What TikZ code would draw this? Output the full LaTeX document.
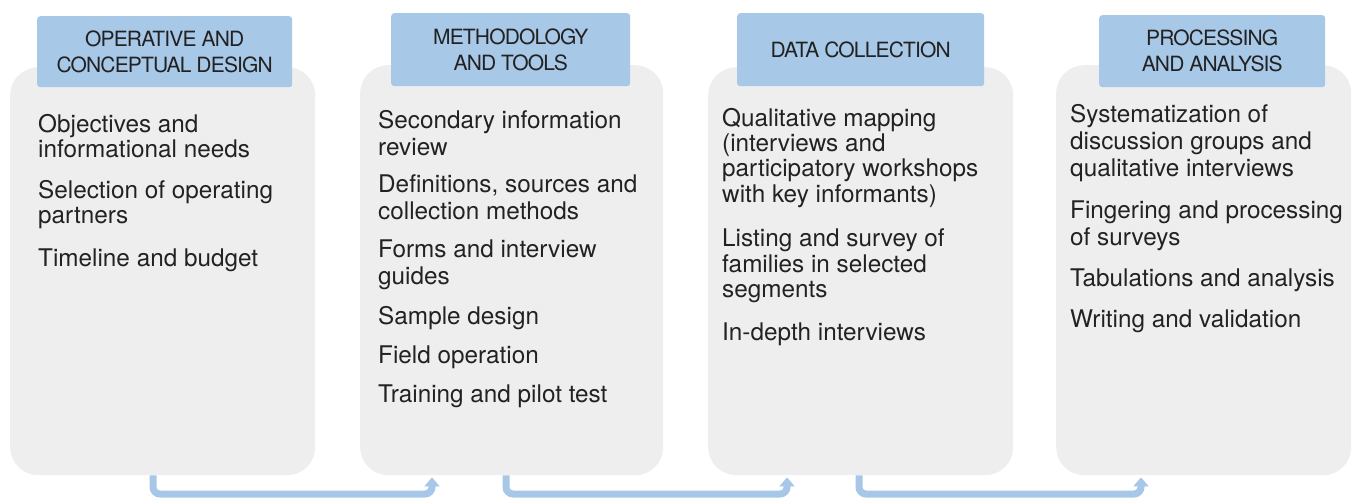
\documentclass[tikz,border=0pt]{standalone}
\usepackage{fontspec}
\setmainfont{TeX Gyre Heros}
\newfontfamily\hdrfont[LetterSpace=-4]{TeX Gyre Heros}
\usetikzlibrary{arrows.meta}
\definecolor{hdrblue}{HTML}{A8C8E8}
\definecolor{boxgray}{HTML}{EEEEEE}
\definecolor{txt}{HTML}{222222}
\definecolor{conncol}{HTML}{A6C7E8}
\tikzset{
  graybox/.style={fill=boxgray, draw=none, rounded corners=28pt, inner sep=0pt, anchor=north west},
  hdr/.style={fill=hdrblue, draw=none, rounded corners=3pt, inner sep=0pt, anchor=north west, align=center, font=\hdrfont\fontsize{21}{26}\selectfont, text=txt},
  item/.style={anchor=base west, align=left, inner sep=0pt, text=txt},
  conn/.style={draw=conncol, line width=7pt, rounded corners=7pt, -{Triangle[width=15pt,length=9pt]}}
}
\begin{document}
\begin{tikzpicture}[x=1pt,y=-1pt]
\useasboundingbox (0,0) rectangle (1352,498);
% gray panels
\node[graybox, minimum width=305pt, minimum height=408pt] (b1) at (10,67) {};
\node[graybox, minimum width=303pt, minimum height=410pt] (b2) at (360,65) {};
\node[graybox, minimum width=305pt, minimum height=408pt] (b3) at (708,67) {};
\node[graybox, minimum width=295pt, minimum height=410pt] (b4) at (1056,65) {};
% headers
\node[hdr, minimum width=255pt, minimum height=71pt] (h1) at (37,16) {OPERATIVE AND\\CONCEPTUAL DESIGN};
\node[hdr, minimum width=239pt, minimum height=73pt] (h2) at (391,13) {METHODOLOGY\\AND TOOLS};
\node[hdr, minimum width=247pt, minimum height=73pt] (h3) at (737,13) {DATA COLLECTION};
\node[hdr, minimum width=226pt, minimum height=72pt] (h4) at (1099,15) {PROCESSING\\AND ANALYSIS};
% items box 1 (anchor = baseline of last line)
\begin{scope}[every node/.append style={font=\fontsize{24.3}{25}\selectfont}]
\node[item] (t11) at (38,157) {Objectives and\\informational needs};
\node[item] (t12) at (38,223) {Selection of operating\\partners};
\node[item] (t13) at (38,266) {Timeline and budget};
\end{scope}
% items box 2
\begin{scope}[every node/.append style={font=\fontsize{24.3}{27}\selectfont}]
\node[item] (t21) at (378,155) {Secondary information\\review};
\node[item] (t22) at (378,219) {Definitions, sources and\\collection methods};
\node[item] (t23) at (378,284) {Forms and interview\\guides};
\node[item] (t24) at (378,324) {Sample design};
\node[item] (t25) at (378,363) {Field operation};
\node[item] (t26) at (378,402) {Training and pilot test};
\end{scope}
% items box 3
\begin{scope}[every node/.append style={font=\fontsize{24.3}{25.3}\selectfont}]
\node[item] (t31) at (722,202) {Qualitative mapping\\(interviews and\\participatory workshops\\with key informants)};
\node[item] (t32) at (722,297.5) {Listing and survey of\\families in selected\\segments};
\node[item] (t33) at (722,340) {In-depth interviews};
\end{scope}
% items box 4
\begin{scope}[every node/.append style={font=\fontsize{24.3}{27}\selectfont}]
\node[item] (t41) at (1070,176) {Systematization of\\discussion groups and\\qualitative interviews};
\node[item] (t42) at (1070,245) {Fingering and processing\\of surveys};
\node[item] (t43) at (1070,286) {Tabulations and analysis};
\node[item] (t44) at (1070,327) {Writing and validation};
\end{scope}
% connectors
\coordinate (k1a) at (153,494); \coordinate (k1b) at (432,494);
\coordinate (k2a) at (506,494); \coordinate (k2b) at (787,494);
\coordinate (k3a) at (859,494); \coordinate (k3b) at (1141,494);
\draw[conn] (b1.south -| k1a) -- (k1a) -- (k1b) -- ([yshift=-2pt]b2.south -| k1b);
\draw[conn] (b2.south -| k2a) -- (k2a) -- (k2b) -- ([yshift=-2pt]b3.south -| k2b);
\draw[conn] (b3.south -| k3a) -- (k3a) -- (k3b) -- ([yshift=-2pt]b4.south -| k3b);
\end{tikzpicture}
\end{document}
